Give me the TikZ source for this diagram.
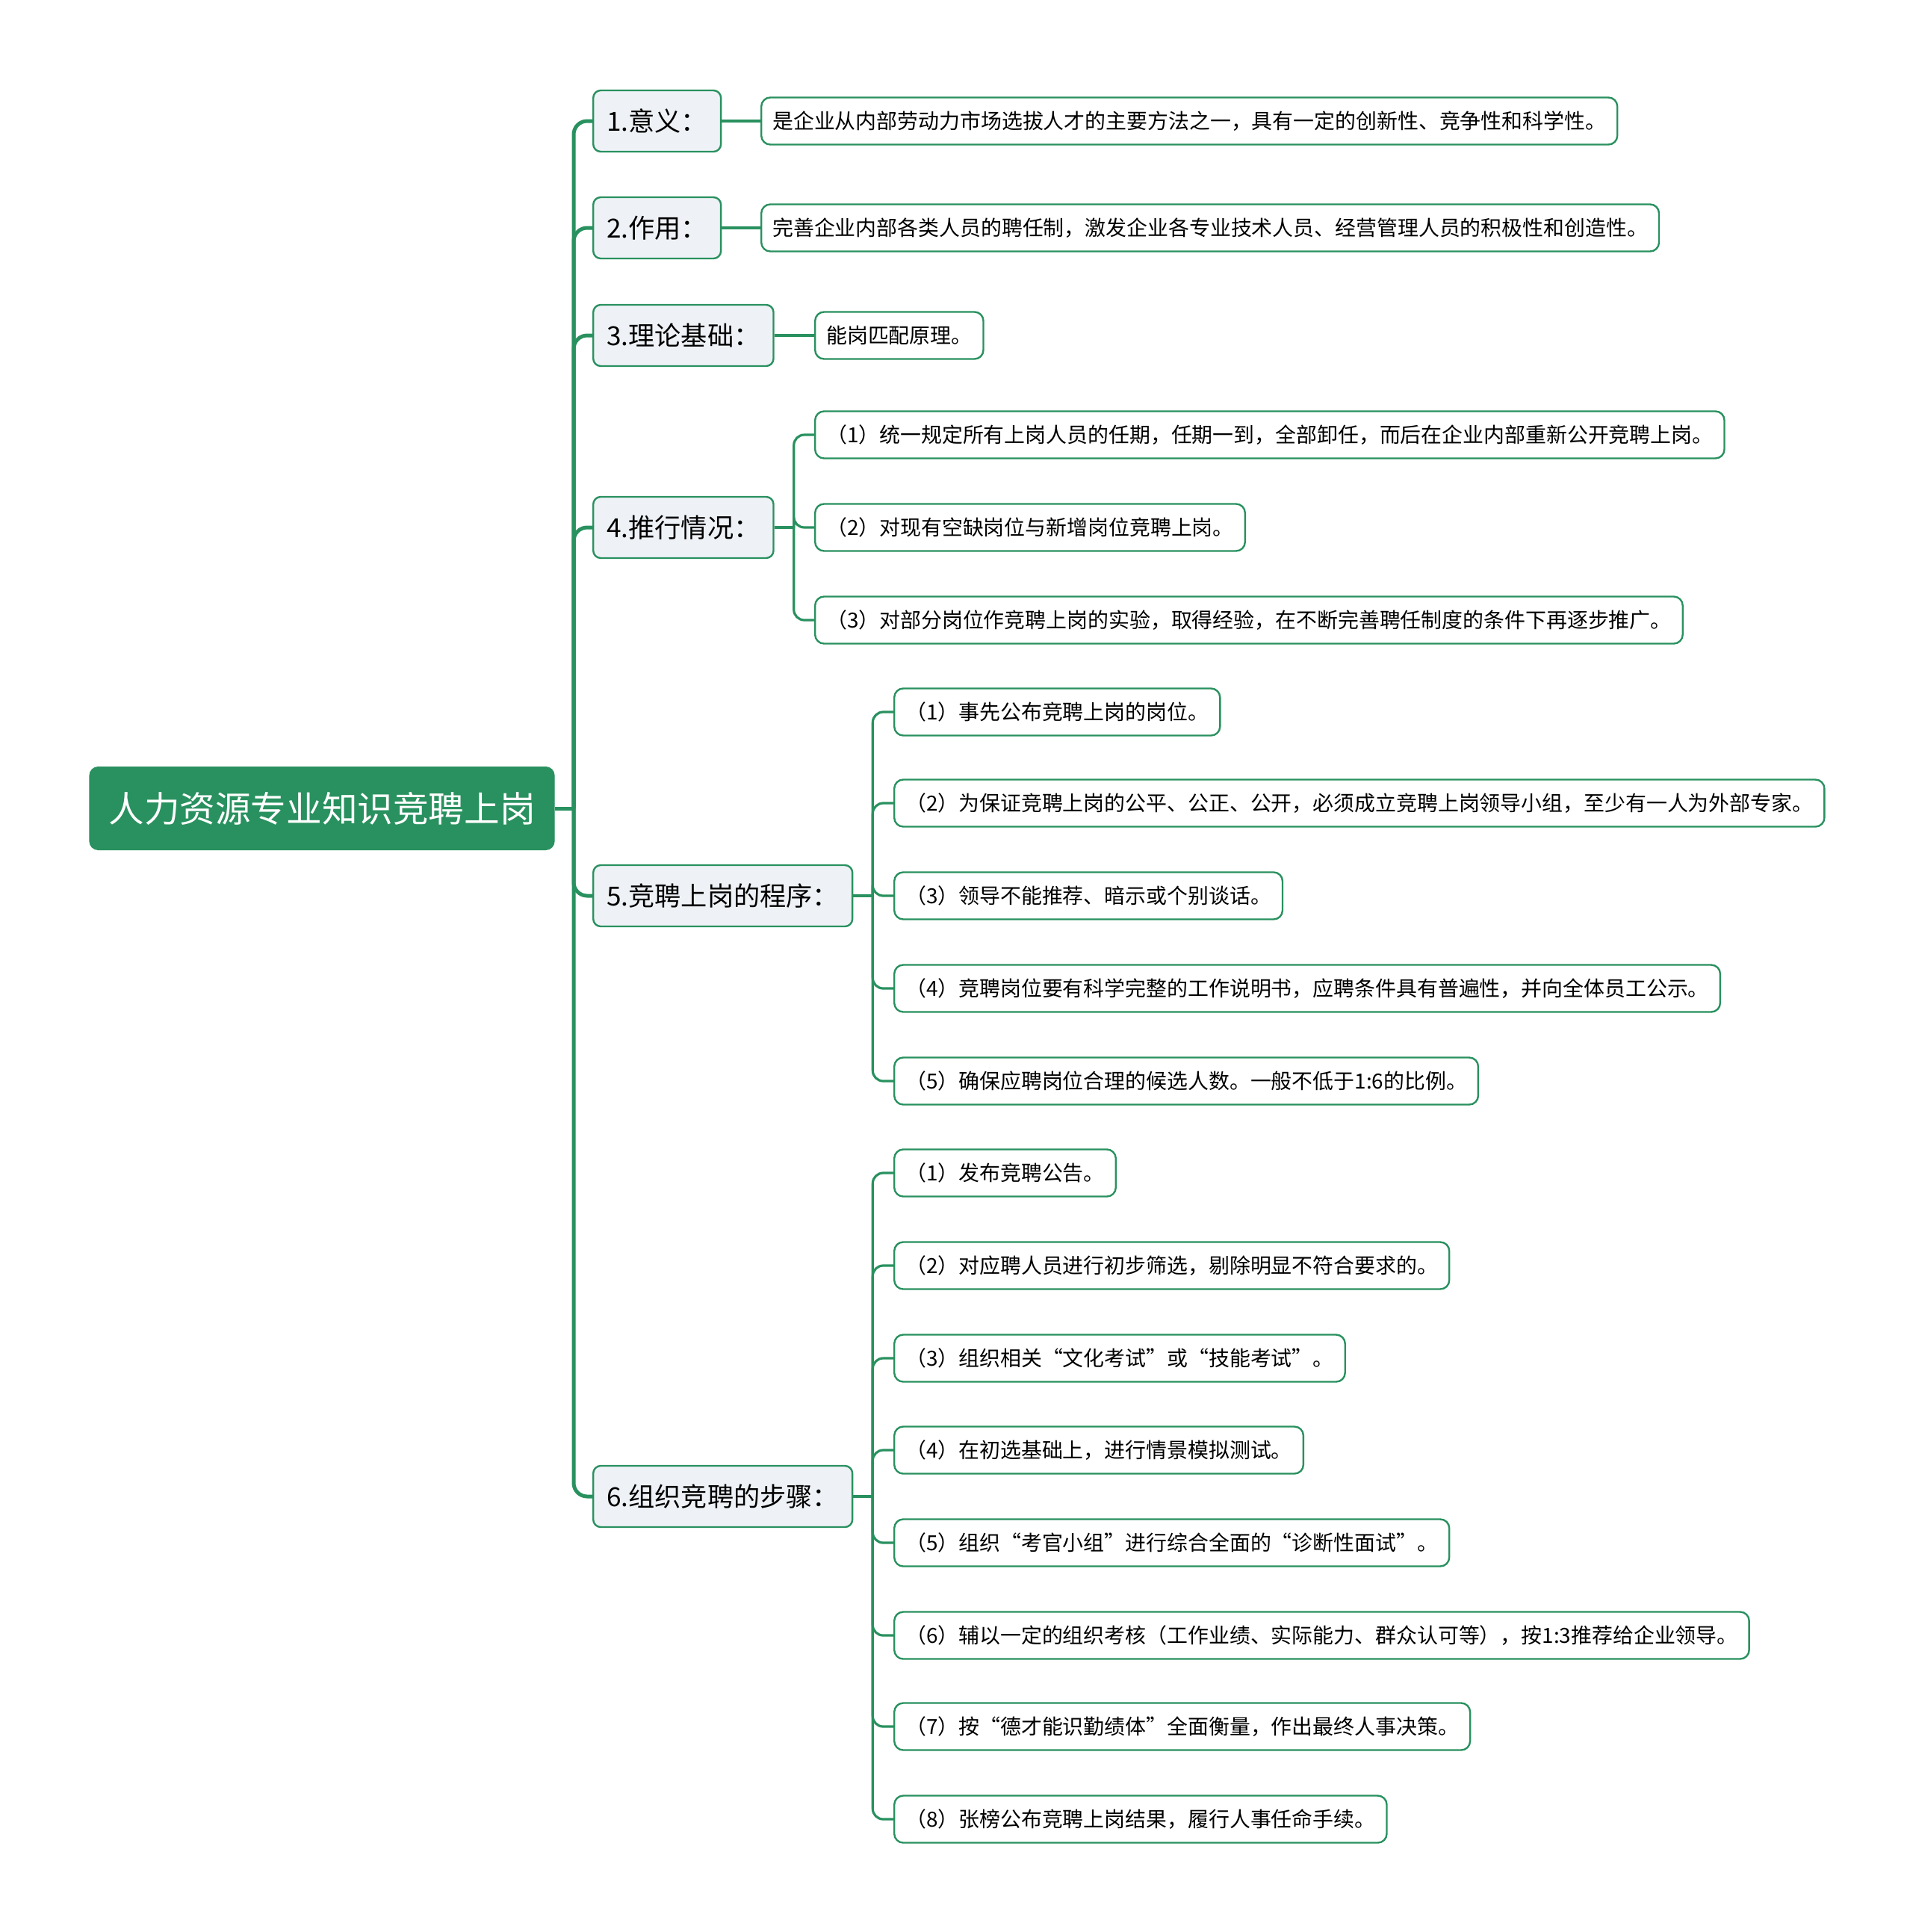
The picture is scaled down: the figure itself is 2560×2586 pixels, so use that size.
\documentclass[tikz,border=0pt]{standalone}
\usepackage{fontspec}
\setmainfont{Noto Sans CJK SC}
\usepackage{xcolor}
\usetikzlibrary{positioning}
\definecolor{mapgreen}{RGB}{41,145,95}
\definecolor{topicfill}{RGB}{238,242,246}
\tikzset{
    root/.style={rectangle, rounded corners=6pt, fill=mapgreen, text=white, font=\fontsize{23.8}{28}\selectfont, minimum height=56pt, inner xsep=13pt},
    topic/.style={rectangle, draw=mapgreen, line width=1.2pt, rounded corners=5pt, fill=topicfill, font=\fontsize{17.6}{20}\selectfont, minimum height=41pt, inner xsep=9pt, anchor=west},
    leaf/.style={rectangle, draw=mapgreen, line width=1.2pt, rounded corners=6pt, fill=white, font=\fontsize{13.95}{16}\selectfont, minimum height=31.5pt, inner xsep=7.5pt, anchor=west},
    trunk/.style={draw=mapgreen, line width=2.5pt, rounded corners=9pt},
    branch/.style={draw=mapgreen, line width=1.6pt, rounded corners=7pt}
}

\begin{document}
\begin{tikzpicture}[x=0.5pt, y=-0.5pt]
    \useasboundingbox (0,0) rectangle (2560,2586);

    \node (root) [root, anchor=west] at (119,1082) {人力资源专业知识竞聘上岗};

    \node (t1) [topic] at (793,162) {1.意义：};
    \node (t2) [topic] at (793,305) {2.作用：};
    \node (t3) [topic] at (793,449) {3.理论基础：};
    \node (t4) [topic] at (793,706) {4.推行情况：};
    \node (t5) [topic] at (793,1199) {5.竞聘上岗的程序：};
    \node (t6) [topic] at (793,2003) {6.组织竞聘的步骤：};

    \node (c11) [leaf] at (1018,162) {是企业从内部劳动力市场选拔人才的主要方法之一，具有一定的创新性、竞争性和科学性。};
    \node (c21) [leaf] at (1018,305) {完善企业内部各类人员的聘任制，激发企业各专业技术人员、经营管理人员的积极性和创造性。};
    \node (c31) [leaf] at (1090,449) {能岗匹配原理。};

    \node (c41) [leaf] at (1090,582) {（1）统一规定所有上岗人员的任期，任期一到，全部卸任，而后在企业内部重新公开竞聘上岗。};
    \node (c42) [leaf] at (1090,706) {（2）对现有空缺岗位与新增岗位竞聘上岗。};
    \node (c43) [leaf] at (1090,830) {（3）对部分岗位作竞聘上岗的实验，取得经验，在不断完善聘任制度的条件下再逐步推广。};

    \node (c51) [leaf] at (1196,953) {（1）事先公布竞聘上岗的岗位。};
    \node (c52) [leaf] at (1196,1075) {（2）为保证竞聘上岗的公平、公正、公开，必须成立竞聘上岗领导小组，至少有一人为外部专家。};
    \node (c53) [leaf] at (1196,1199) {（3）领导不能推荐、暗示或个别谈话。};
    \node (c54) [leaf] at (1196,1323) {（4）竞聘岗位要有科学完整的工作说明书，应聘条件具有普遍性，并向全体员工公示。};
    \node (c55) [leaf] at (1196,1447) {（5）确保应聘岗位合理的候选人数。一般不低于1:6的比例。};

    \node (c61) [leaf] at (1196,1570) {（1）发布竞聘公告。};
    \node (c62) [leaf] at (1196,1694) {（2）对应聘人员进行初步筛选，剔除明显不符合要求的。};
    \node (c63) [leaf] at (1196,1818) {（3）组织相关“文化考试”或“技能考试”。};
    \node (c64) [leaf] at (1196,1941) {（4）在初选基础上，进行情景模拟测试。};
    \node (c65) [leaf] at (1196,2065) {（5）组织“考官小组”进行综合全面的“诊断性面试”。};
    \node (c66) [leaf] at (1196,2189) {（6）辅以一定的组织考核（工作业绩、实际能力、群众认可等），按1:3推荐给企业领导。};
    \node (c67) [leaf] at (1196,2311) {（7）按“德才能识勤绩体”全面衡量，作出最终人事决策。};
    \node (c68) [leaf] at (1196,2435) {（8）张榜公布竞聘上岗结果，履行人事任命手续。};

    % trunk from the root
    \coordinate (hub) at ([xshift=12.5pt]root.east);
    \draw [trunk] (root.east) -- (hub);
    \foreach \t in {t1,t2,t3,t4,t5,t6}
        \draw [trunk] (hub) |- (\t.west);

    % single children
    \draw [branch] (t1) -- (c11);
    \draw [branch] (t2) -- (c21);
    \draw [branch] (t3) -- (c31);

    % grouped children
    \coordinate (h4) at ([xshift=13pt]t4.east);
    \coordinate (h5) at ([xshift=13pt]t5.east);
    \coordinate (h6) at ([xshift=13pt]t6.east);
    \draw [branch] (t4.east) -- (h4);
    \draw [branch] (t5.east) -- (h5);
    \draw [branch] (t6.east) -- (h6);
    \foreach \c in {c41,c42,c43}
        \draw [branch] (h4) |- (\c.west);
    \foreach \c in {c51,c52,c53,c54,c55}
        \draw [branch] (h5) |- (\c.west);
    \foreach \c in {c61,c62,c63,c64,c65,c66,c67,c68}
        \draw [branch] (h6) |- (\c.west);
\end{tikzpicture}
\end{document}
